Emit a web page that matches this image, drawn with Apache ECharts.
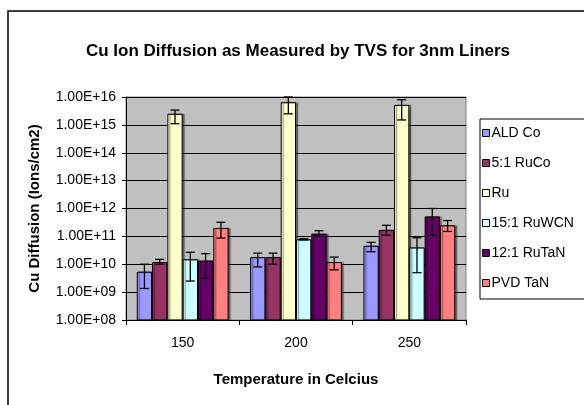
<!DOCTYPE html>
<html>
<head>
<meta charset="utf-8">
<script src="https://cdn.jsdelivr.net/npm/echarts@6/dist/echarts.min.js"></script>
<style>
html,body{margin:0;padding:0;background:#fff;}
#chart{width:584px;height:405px;}
</style>
</head>
<body>
<div id="chart"></div>
<script>
const categories = ['150', '200', '250'];
const seriesNames = ['ALD Co', '5:1 RuCo', 'Ru', '15:1 RuWCN', '12:1 RuTaN', 'PVD TaN'];
const seriesColors = ['#9999FF', '#993366', '#FFFFCC', '#CCFFFF', '#660066', '#FF8080'];

const aldCo      = [5.4e9, 1.8e10, 4.6e10];
const aldCoLow   = [1.35e9, 8.0e9, 2.8e10];
const aldCoHigh  = [1.0e10, 2.5e10, 6.1e10];

const ruCo       = [1.2e10, 1.8e10, 1.7e11];
const ruCoLow    = [1.0e10, 1.0e10, 1.1e11];
const ruCoHigh   = [1.5e10, 2.5e10, 2.5e11];

const ru         = [2.5e15, 6.5e15, 5.2e15];
const ruLow      = [1.1e15, 2.5e15, 1.5e15];
const ruHigh     = [3.4e15, 1.0e16, 8.0e15];

const ruWcn      = [1.5e10, 7.8e10, 4.0e10];
const ruWcnLow   = [2.5e9, 7.5e10, 5.0e9];
const ruWcnHigh  = [2.7e10, 8.2e10, 8.9e10];

const ruTaN      = [1.35e10, 1.25e11, 5.2e11];
const ruTaNLow   = [3.1e9, 1.0e11, 1.1e11];
const ruTaNHigh  = [2.4e10, 1.6e11, 1.0e12];

const pvdTaN     = [2.0e11, 1.2e10, 2.5e11];
const pvdTaNLow  = [8.7e10, 6.3e9, 1.5e11];
const pvdTaNHigh = [3.2e11, 1.8e10, 3.7e11];

const yTickLabels = ['1.00E+08','1.00E+09','1.00E+10','1.00E+11','1.00E+12','1.00E+13','1.00E+14','1.00E+15','1.00E+16'];

const values = [aldCo, ruCo, ru, ruWcn, ruTaN, pvdTaN];
const lows = [aldCoLow, ruCoLow, ruLow, ruWcnLow, ruTaNLow, pvdTaNLow];
const highs = [aldCoHigh, ruCoHigh, ruHigh, ruWcnHigh, ruTaNHigh, pvdTaNHigh];

const CAT_GAP = 0.19;
const FONT = 'Arial, "Liberation Sans", sans-serif';

const errData = [];
for (let s = 0; s < values.length; s++) {
  for (let c = 0; c < categories.length; c++) {
    errData.push([c, lows[s][c], highs[s][c], s]);
  }
}

const barSeries = seriesNames.map((name, i) => ({
  name: name,
  type: 'bar',
  data: values[i],
  barGap: '0%',
  barCategoryGap: (CAT_GAP * 100) + '%',
  itemStyle: {
    color: seriesColors[i],
    borderColor: '#000',
    borderWidth: 1,
    shadowColor: 'rgba(0,0,0,0.45)',
    shadowOffsetX: 2,
    shadowOffsetY: 0,
    shadowBlur: 1
  },
  emphasis: {disabled: true},
  z: 2
}));

const errSeries = {
  type: 'custom',
  data: errData,
  encode: {x: 0, y: [1, 2]},
  z: 5,
  silent: true,
  renderItem: function (params, api) {
    const ci = api.value(0), lo = api.value(1), hi = api.value(2), si = api.value(3);
    const pLo = api.coord([ci, lo]);
    const pHi = api.coord([ci, hi]);
    const band = api.coord([1, lo])[0] - api.coord([0, lo])[0];
    const inner = band * (1 - CAT_GAP);
    const bw = inner / seriesNames.length;
    const x = pLo[0] - inner / 2 + (si + 0.5) * bw;
    const cap = 4.5;
    const st = {stroke: '#000', lineWidth: 1.3};
    return {
      type: 'group',
      children: [
        {type: 'line', shape: {x1: x, y1: pLo[1], x2: x, y2: pHi[1]}, style: st},
        {type: 'line', shape: {x1: x - cap, y1: pLo[1], x2: x + cap, y2: pLo[1]}, style: st},
        {type: 'line', shape: {x1: x - cap, y1: pHi[1], x2: x + cap, y2: pHi[1]}, style: st}
      ]
    };
  }
};

const chart = echarts.init(document.getElementById('chart'), null, {renderer: 'canvas'});
chart.setOption({
  animation: false,
  backgroundColor: '#fff',
  textStyle: {fontFamily: FONT},
  title: {
    text: 'Cu Ion Diffusion as Measured by TVS for 3nm Liners',
    left: 293, textAlign: 'center',
    top: 38,
    textStyle: {fontFamily: FONT, fontSize: 17, fontWeight: 'bold', color: '#000'}
  },
  graphic: [{
    type: 'rect',
    shape: {x: 8, y: 11, width: 700, height: 500},
    style: {fill: null, stroke: '#000', lineWidth: 1.5},
    silent: true,
    z: 0
  }],
  legend: {
    orient: 'vertical',
    left: 480, top: 119,
    padding: [6, 60, 8, 2],
    itemGap: 14,
    itemWidth: 7, itemHeight: 7,
    icon: 'rect',
    borderColor: '#000', borderWidth: 1,
    backgroundColor: '#fff',
    selectedMode: false,
    itemStyle: {borderColor: '#000', borderWidth: 1, shadowColor: 'transparent'},
    textStyle: {fontFamily: FONT, fontSize: 14, lineHeight: 16, color: '#000', padding: [0, 0, 0, -3]},
    data: seriesNames
  },
  grid: {
    left: 126, right: 118, top: 97, bottom: 85,
    show: true, backgroundColor: '#C0C0C0', borderColor: '#808080', borderWidth: 1,
    containLabel: false
  },
  xAxis: {
    type: 'category',
    data: categories,
    name: 'Temperature in Celcius',
    nameLocation: 'middle',
    nameGap: 52,
    nameTextStyle: {fontFamily: FONT, fontSize: 15, fontWeight: 'bold', color: '#000'},
    axisLine: {lineStyle: {color: '#000', width: 1}},
    axisTick: {show: true, length: 5, lineStyle: {color: '#000'}},
    axisLabel: {fontFamily: FONT, fontSize: 14, color: '#000', margin: 16},
    splitLine: {show: false}
  },
  yAxis: {
    type: 'log',
    logBase: 10,
    min: 1e8, max: 1e16,
    name: 'Cu Diffusion (Ions/cm2)',
    nameLocation: 'middle',
    nameGap: 84,
    nameRotate: 90,
    nameTextStyle: {fontFamily: FONT, fontSize: 15, fontWeight: 'bold', color: '#000'},
    axisLine: {show: true, lineStyle: {color: '#000', width: 1}},
    axisTick: {show: true, length: 4, lineStyle: {color: '#000'}},
    axisLabel: {
      fontFamily: FONT, fontSize: 14, color: '#000', margin: 10,
      formatter: function (v) { return yTickLabels[Math.round(Math.log10(v)) - 8]; }
    },
    minorTick: {show: false},
    splitLine: {show: true, lineStyle: {color: '#000', width: 1}}
  },
  series: barSeries.concat([errSeries])
});
</script>
</body>
</html>
